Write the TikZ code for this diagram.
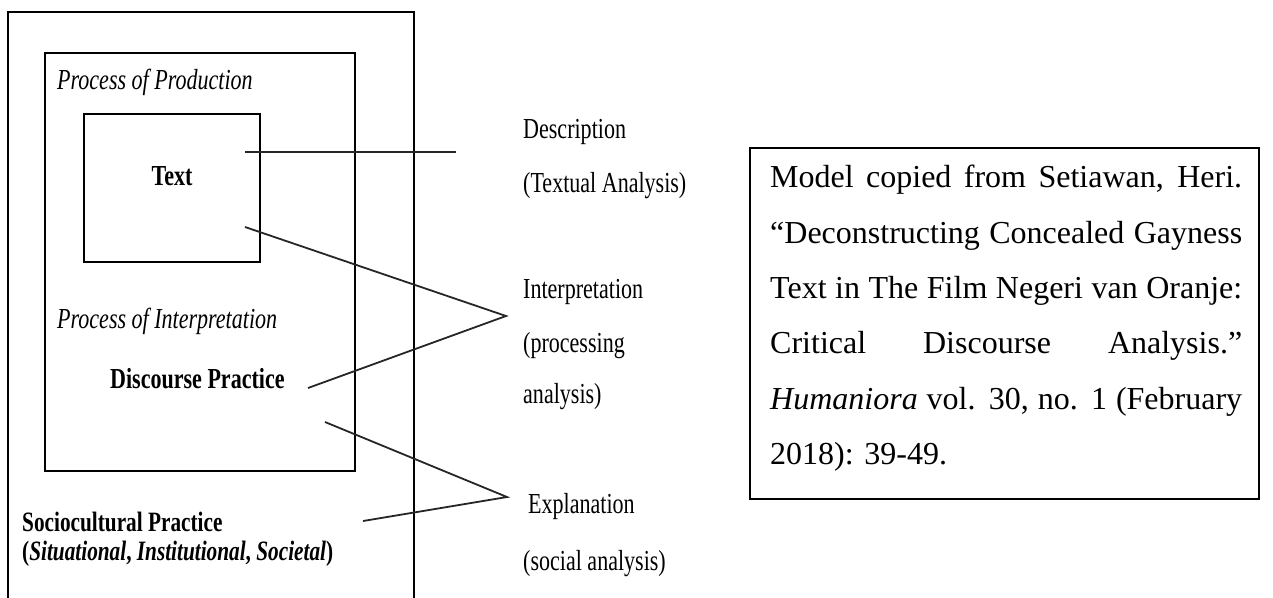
\documentclass[tikz,border=0pt]{standalone}
\usepackage{fontspec}
\setmainfont{Liberation Serif}
\usepackage{graphicx}
\newcommand{\narrow}[1]{\scalebox{0.76}[1]{#1}}
\tikzstyle{boxed} = [rectangle, draw=black, line width=1.5pt, inner sep=0pt]
\tikzstyle{lbl} = [inner sep=0pt, anchor=base west, font=\fontsize{29}{35}\selectfont]
\tikzstyle{wire} = [draw=black!85, line width=1.8pt]

\begin{document}
\begin{tikzpicture}[x=1pt, y=-1pt]

    \useasboundingbox (0,0) rectangle (1273,597);

    \draw[line width=1.2pt] (8,600) |- (414,12) -- (414,600);

    \node (production box) [boxed, anchor=north west, minimum width=310pt, minimum height=418pt] at (44,52) {};
    \node (text box) [boxed, line width=1.8pt, anchor=north west, minimum width=176pt, minimum height=148pt] at (83,113) {};

    \node (production) [lbl] at (57,89) {\narrow{\itshape Process of Production}};
    \node (text) [lbl, anchor=base] at (172,185) {\narrow{\bfseries Text}};
    \node (interpretation) [lbl] at (57,328) {\narrow{\itshape Process of Interpretation}};
    \node (discourse) [lbl] at (110,388) {\narrow{\bfseries Discourse Practice}};
    \node (sociocultural) [lbl, font=\fontsize{28}{34}\selectfont] at (22,531) {\narrow{\bfseries Sociocultural Practice}};
    \node (levels) [lbl, font=\fontsize{28}{34}\selectfont] at (22,560) {\narrow{\bfseries (\textit{Situational}, \textit{Institutional}, \textit{Societal})}};

    \node (description) [lbl] at (523,138) {\narrow{Description}};
    \node (textual) [lbl] at (523,192) {\narrow{(Textual Analysis)}};
    \node (interp) [lbl] at (523,298) {\narrow{Interpretation}};
    \node (processing) [lbl] at (523,352) {\narrow{(processing}};
    \node (processing2) [lbl] at (523,403) {\narrow{analysis)}};
    \node (explanation) [lbl] at (528,513) {\narrow{Explanation}};
    \node (social) [lbl] at (523,570) {\narrow{(social analysis)}};

    \coordinate (text start) at (245,152);
    \coordinate (description end) at (456,152);
    \coordinate (text low) at (245,227);
    \coordinate (interp apex) at (506,316);
    \coordinate (discourse start) at (308,388);
    \coordinate (discourse low) at (325,422);
    \coordinate (expl apex) at (507,497);
    \coordinate (socio start) at (363,521);

    \draw[wire] (text start) -- (description end);
    \draw[wire] (text low) -- (interp apex) -- (discourse start);
    \draw[wire] (discourse low) -- (expl apex) -- (socio start);

    \node (source box) [boxed, anchor=north west, minimum width=509pt, minimum height=351pt] at (749,147) {};
    \node (source) [inner sep=0pt, anchor=north west, text width=472pt, align=justify, font=\fontsize{32}{55.4}\selectfont] at (770,165) {Model copied from Setiawan, Heri.\linebreak “Deconstructing Concealed Gayness\linebreak Text in The Film Negeri van Oranje:\linebreak Critical Discourse Analysis.”\linebreak \textit{Humaniora} vol. 30, no. 1 (February\linebreak 2018): 39-49.};

\end{tikzpicture}
\end{document}
